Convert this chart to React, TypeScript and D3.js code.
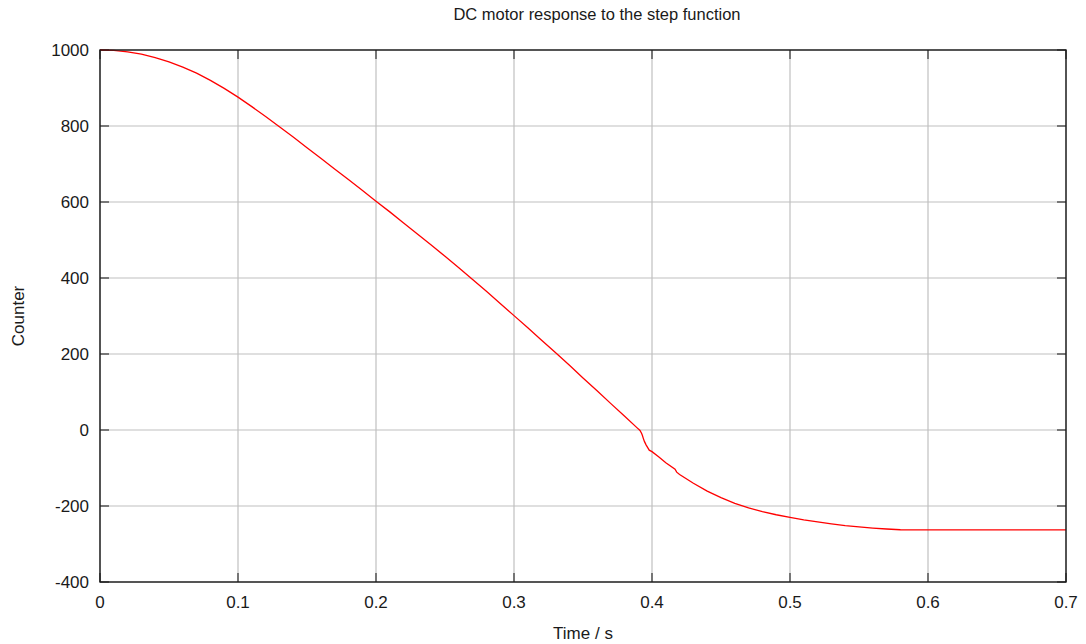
import React from 'react';
import * as d3 from 'd3';

const width = 1086;
const height = 644;
const margin = { top: 50, right: 20, bottom: 62, left: 100 };
const innerW = width - margin.left - margin.right;
const innerH = height - margin.top - margin.bottom;

// motor position samples
const time = [
  0, 0.01, 0.02, 0.03, 0.04, 0.05, 0.06, 0.07, 0.08, 0.09,
  0.1, 0.11, 0.12, 0.13, 0.14, 0.15, 0.16, 0.17, 0.18, 0.19,
  0.2, 0.21, 0.22, 0.23, 0.24, 0.25, 0.26, 0.27, 0.28, 0.29,
  0.3, 0.31, 0.32, 0.33, 0.34, 0.35, 0.36, 0.37, 0.38, 0.39,
  0.3913, 0.3925, 0.393, 0.3937, 0.3945, 0.3957, 0.397, 0.398, 0.4, 0.405,
  0.41, 0.4167, 0.4179, 0.42, 0.43, 0.44, 0.45, 0.46, 0.47,
  0.48, 0.49, 0.5, 0.51, 0.52, 0.53, 0.54, 0.55, 0.56, 0.57,
  0.58, 0.59, 0.6, 0.7,
];
const counter = [
  1000, 999, 995, 989, 980, 969, 955, 939, 920, 899,
  876, 851, 825, 798, 771, 743, 715, 687, 659, 631,
  602, 574, 545, 516, 487, 457, 427, 396, 365, 333,
  301, 269, 236, 204, 171, 137, 104, 70, 37, 3,
  -1, -9, -14, -22, -30, -39, -47, -53, -57, -71,
  -86, -103, -111, -117, -140, -161, -178, -193, -205,
  -215, -223, -230, -236.5, -242, -247, -251.5, -255, -258, -260.5,
  -262.5, -263, -263, -263,
];

const xTicks = [0, 0.1, 0.2, 0.3, 0.4, 0.5, 0.6, 0.7];
const yTicks = [-400, -200, 0, 200, 400, 600, 800, 1000];

const x = d3.scaleLinear().domain([0, 0.7]).range([0, innerW]);
const y = d3.scaleLinear().domain([-400, 1000]).range([innerH, 0]);

const data = time.map((t, i) => [t, counter[i]] as [number, number]);
const linePath = d3.line<[number, number]>()
  .x(d => x(d[0]))
  .y(d => y(d[1]))(data);

const tickLen = 9;
const font = 'Liberation Sans, Arial, Helvetica, sans-serif';

const App = () => {
  return (
    <svg width={width} height={height} style={{ position: 'absolute', left: 0, top: 0, background: '#fff' }}>
      <text x={597} y={20} textAnchor="middle" fontFamily={font} fontSize={16.5} fill="#1a1a1a">
        DC motor response to the step function
      </text>
      <g transform={`translate(${margin.left},${margin.top})`}>
        {xTicks.map(t => (
          <line key={'gx' + t} x1={x(t)} x2={x(t)} y1={0} y2={innerH} stroke="#c0c0c0" strokeWidth={1.2} />
        ))}
        {yTicks.map(t => (
          <line key={'gy' + t} x1={0} x2={innerW} y1={y(t)} y2={y(t)} stroke="#c0c0c0" strokeWidth={1.2} />
        ))}
        {xTicks.map(t => (
          <g key={'tx' + t}>
            <line x1={x(t)} x2={x(t)} y1={innerH} y2={innerH - tickLen} stroke="#333" strokeWidth={1.2} />
            <line x1={x(t)} x2={x(t)} y1={0} y2={tickLen} stroke="#333" strokeWidth={1.2} />
            <text x={x(t)} y={innerH + 26} textAnchor="middle" fontFamily={font} fontSize={17} fill="#1a1a1a">
              {t}
            </text>
          </g>
        ))}
        {yTicks.map(t => (
          <g key={'ty' + t}>
            <line x1={0} x2={tickLen} y1={y(t)} y2={y(t)} stroke="#333" strokeWidth={1.2} />
            <line x1={innerW} x2={innerW - tickLen} y1={y(t)} y2={y(t)} stroke="#333" strokeWidth={1.2} />
            <text x={-11} y={y(t) + 6} textAnchor="end" fontFamily={font} fontSize={17} fill="#1a1a1a">
              {t}
            </text>
          </g>
        ))}
        <path d={linePath || ''} fill="none" stroke="#ff0000" strokeWidth={1.3} />
        <rect x={0} y={0} width={innerW} height={innerH} fill="none" stroke="#1a1a1a" strokeWidth={1.4} />
      </g>
      <text transform={`translate(24,${margin.top + innerH / 2}) rotate(-90)`} textAnchor="middle" fontFamily={font} fontSize={17} fill="#1a1a1a">
        Counter
      </text>
      <text x={margin.left + innerW / 2} y={639} textAnchor="middle" fontFamily={font} fontSize={17} fill="#1a1a1a">
        Time / s
      </text>
    </svg>
  );
};

export default App;
